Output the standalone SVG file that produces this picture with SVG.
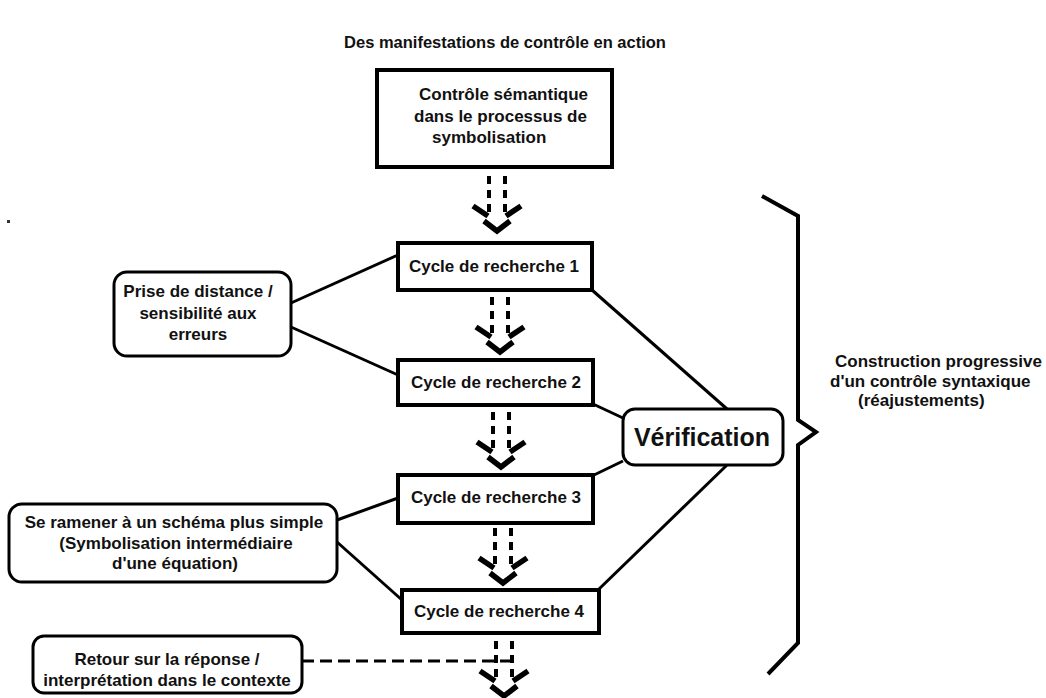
<svg xmlns="http://www.w3.org/2000/svg" width="1046" height="698" viewBox="0 0 1046 698">
<style>
text{font-family:"Liberation Sans",Arial,sans-serif;font-weight:bold;font-size:17px;fill:#111}
.c{text-anchor:middle}
.box{fill:#fff;stroke:#000;stroke-width:4}
.rbox{fill:#fff;stroke:#000;stroke-width:3}
.ln{stroke:#000;stroke-width:3;fill:none}
.dash{stroke:#000;stroke-width:4;stroke-dasharray:8 6;fill:none}
.hd{stroke:#000;stroke-width:5.5;fill:none}
.hdash{stroke:#000;stroke-width:3;stroke-dasharray:12 6;fill:none}
</style>
<defs>
<g id="arr">
<line class="dash" x1="-8" y1="0" x2="-8" y2="40"/>
<line class="dash" x1="8" y1="0" x2="8" y2="40"/>
<path class="hd" d="M-24,30 L-9,40"/>
<path class="hd" d="M24,30 L9,40"/>
<path class="hd" d="M-13,45 L0,55 L13,45"/>
</g>
</defs>
<rect width="1046" height="698" fill="#fff"/>
<text id="title" class="c" x="505" y="48" style="font-size:16.5px">Des manifestations de contrôle en action</text>
<rect x="7" y="220" width="3" height="3" fill="#333"/>

<g id="connectors">
<use href="#arr" x="497" y="176"/>
<use href="#arr" x="500" y="297"/>
<use href="#arr" x="501" y="412"/>
<use href="#arr" x="503" y="528"/>
<use href="#arr" x="504" y="641"/>
<line class="ln" x1="291" y1="303" x2="398" y2="255"/>
<line class="ln" x1="291" y1="327" x2="398" y2="375"/>
<line class="ln" x1="337" y1="520" x2="398" y2="498"/>
<line class="ln" x1="337" y1="542" x2="402" y2="600"/>
<line class="ln" x1="592" y1="290" x2="727" y2="409"/>
<line class="ln" x1="593" y1="404" x2="623" y2="418"/>
<line class="ln" x1="623" y1="461" x2="594" y2="475"/>
<line class="ln" x1="727" y1="465" x2="598" y2="590"/>
<line class="hdash" x1="302" y1="661" x2="514" y2="661"/>
<path d="M762,196 L798,216 L798,420 L816,432 L798,445 L798,643 L768,674" fill="none" stroke="#000" stroke-width="4"/>
</g>

<g id="semantique">
<rect class="box" x="377" y="70" width="235" height="97"/>
<text x="419" y="100">Contrôle sémantique</text>
<text x="414" y="122">dans le processus de</text>
<text x="432" y="143">symbolisation</text>
</g>
<g id="cycle1">
<rect class="box" x="398" y="243" width="194" height="47"/>
<text class="c" x="494" y="272">Cycle de recherche 1</text>
</g>
<g id="cycle2">
<rect class="box" x="398" y="360" width="195" height="45"/>
<text class="c" x="496" y="388">Cycle de recherche 2</text>
</g>
<g id="cycle3">
<rect class="box" x="398" y="475" width="195" height="48"/>
<text class="c" x="496" y="503">Cycle de recherche 3</text>
</g>
<g id="cycle4">
<rect class="box" x="402" y="590" width="197" height="43"/>
<text class="c" x="499" y="617">Cycle de recherche 4</text>
</g>
<g id="prise">
<rect class="rbox" x="114" y="272" width="177" height="84" rx="13"/>
<text class="c" x="198" y="297">Prise de distance /</text>
<text class="c" x="198" y="319">sensibilité aux</text>
<text class="c" x="198" y="340">erreurs</text>
</g>
<g id="ramener">
<rect class="rbox" x="9" y="504" width="328" height="78" rx="13"/>
<text class="c" x="174" y="528">Se ramener à un schéma plus simple</text>
<text class="c" x="176" y="549">(Symbolisation intermédiaire</text>
<text class="c" x="175" y="569">d'une équation)</text>
</g>
<g id="retour">
<rect class="rbox" x="33" y="636" width="269" height="57" rx="11"/>
<text class="c" x="167" y="665">Retour sur la réponse /</text>
<text class="c" x="167" y="686">interprétation dans le contexte</text>
</g>
<g id="verification">
<rect class="rbox" x="623" y="409" width="160" height="56" rx="12"/>
<text class="c" x="702" y="446" style="font-size:25px">Vérification</text>
</g>
<g id="construction">
<text x="835" y="367">Construction progressive</text>
<text x="830" y="387">d'un contrôle syntaxique</text>
<text x="858" y="406">(réajustements)</text>
</g>
</svg>
